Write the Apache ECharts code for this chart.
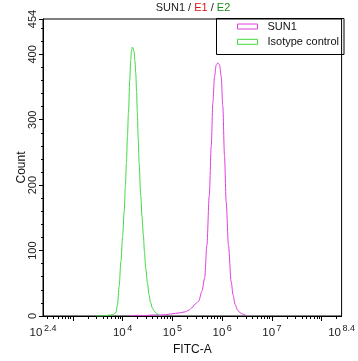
<!DOCTYPE html>
<html><head><meta charset="utf-8">
<script src="https://cdn.jsdelivr.net/npm/echarts@6/dist/echarts.min.js"></script>
<style>html,body{margin:0;padding:0;background:#fff}#c{width:358px;height:361px}</style>
</head><body><div id="c"></div>
<script>
// ---- data ----
const titleParts = ['SUN1', 'E1', 'E2'];
const seriesNames = ['SUN1', 'Isotype control'];
const xAxisName = 'FITC-A';
const yAxisName = 'Count';
const xLabelExponents = [2.4, 4, 5, 6, 7, 8.4];
const xMajorTickExponents = [3, 4, 5, 6, 7, 8];
const yTickValues = [0, 100, 200, 300, 400, 454];
const yMinorTickValues = [20,40,60,80,120,140,160,180,220,240,260,280,320,340,360,380,420,440];

// log10(FITC-A) and counts
const sun1LogX = [4.15, 4.30, 4.43, 4.59, 4.75, 4.863, 4.96, 5.063, 5.16, 5.262, 5.33, 5.394, 5.462, 5.528, 5.594, 5.648, 5.693, 5.741, 5.781, 5.813, 5.847, 5.881, 5.913, 5.947, 5.981, 6.013, 6.047, 6.081, 6.127, 6.18, 6.22, 6.26, 6.31, 6.36, 6.41, 6.46, 6.49];
const sun1Count = [0, 1, 0.5, 1.5, 1.5, 2, 3, 4, 5, 6.5, 9, 12.6, 18.6, 22.7, 38, 58, 108, 184, 260, 326, 366, 384, 387, 384, 366, 321, 245, 174, 108, 53, 32, 17.6, 9, 5, 3, 1.5, 0];
const isoLogX = [3.47, 3.60, 3.70, 3.80, 3.865, 3.897, 3.93, 3.965, 4.0, 4.031, 4.055, 4.077, 4.097, 4.117, 4.144, 4.162, 4.177, 4.196, 4.213, 4.23, 4.247, 4.264, 4.28, 4.296, 4.313, 4.33, 4.364, 4.39, 4.416, 4.44, 4.464, 4.50, 4.53, 4.56, 4.596, 4.63, 4.663, 4.70, 4.73, 4.76];
const isoCount = [0, 0, 1, 2, 5, 17, 45, 83, 122, 159, 198, 235, 274, 311, 361, 390, 406, 411, 409, 404, 390, 371, 343, 311, 272, 235, 184, 152, 124, 97, 73, 50, 33, 21, 12.6, 8, 5, 3, 1.5, 0];

const colors = ['#e03ee0', '#3fd93f'];

// minor log ticks
const xMinorTicks = [];
for (let n = 2; n <= 8; n++) {
  for (let k = 2; k <= 9; k++) {
    const v = Math.log10(k * Math.pow(10, n));
    if (v > 2.4 && v < 8.4) xMinorTicks.push(v);
  }
}
const pairs = (xs, ys) => xs.map((x, i) => [x, ys[i]]);
const FONT = 'Liberation Sans, Arial, sans-serif';

const chart = echarts.init(document.getElementById('c'), null, {renderer: 'canvas'});
chart.setOption({
  animation: false,
  backgroundColor: '#fff',
  textStyle: {fontFamily: FONT},
  title: {
    text: '{k|' + titleParts[0] + ' / }{r|' + titleParts[1] + '}{k| / }{g|' + titleParts[2] + '}',
    left: 193, top: 2, textAlign: 'center', padding: 0,
    textStyle: {
      fontFamily: FONT, fontWeight: 'normal',
      rich: {
        k: {fontSize: 11, color: '#222', fontFamily: FONT, fontWeight: 'normal'},
        r: {fontSize: 11, color: '#dd1111', fontFamily: FONT, fontWeight: 'normal'},
        g: {fontSize: 11, color: '#1a8a1a', fontFamily: FONT, fontWeight: 'normal'}
      }
    }
  },
  legend: {
    orient: 'vertical', left: 237, top: 20, padding: 0,
    icon: 'rect', itemWidth: 20, itemHeight: 5, itemGap: 2.3,
    textStyle: {fontSize: 11, color: '#111', fontFamily: FONT, lineHeight: 13, padding: [0, 0, 0, 5]},
    itemStyle: {color: 'rgba(255,255,255,0)', borderWidth: 1},
    data: [
      {name: seriesNames[0], itemStyle: {color: 'rgba(255,255,255,0)', borderColor: colors[0], borderWidth: 1}},
      {name: seriesNames[1], itemStyle: {color: 'rgba(255,255,255,0)', borderColor: colors[1], borderWidth: 1}}
    ]
  },
  graphic: [{
    type: 'rect', shape: {x: 216.5, y: 18.5, width: 127.5, height: 36},
    style: {fill: null, stroke: '#000', lineWidth: 1}, z: 10
  }],
  grid: {left: 43, right: 14, top: 19, bottom: 43, show: true, borderColor: '#000', borderWidth: 1, backgroundColor: 'transparent'},
  xAxis: [{
    type: 'value', min: 2.4, max: 8.4,
    name: xAxisName, nameLocation: 'middle', nameGap: 28, nameMoveOverlap: false,
    nameTextStyle: {fontSize: 12, color: '#111', fontFamily: FONT},
    axisLine: {show: true, lineStyle: {color: '#000', width: 1}},
    axisTick: {show: true, length: 5, customValues: xMajorTickExponents, lineStyle: {color: '#000'}},
    axisLabel: {
      show: true, margin: 8, customValues: xLabelExponents,
      formatter: v => '{b|10}{s|' + (Math.round(v * 10) / 10) + '}',
      rich: {
        b: {fontSize: 11.5, color: '#222', fontFamily: FONT, lineHeight: 15, verticalAlign: 'bottom'},
        s: {fontSize: 9, color: '#222', fontFamily: FONT, lineHeight: 10, verticalAlign: 'top', padding: [0, 0, 0, 1.5]}
      }
    },
    splitLine: {show: false}
  }, {
    type: 'value', min: 2.4, max: 8.4, position: 'bottom', gridIndex: 0,
    axisLine: {show: false},
    axisTick: {show: true, length: 3, customValues: xMinorTicks, lineStyle: {color: '#000'}},
    axisLabel: {show: false},
    splitLine: {show: false}
  }],
  yAxis: [{
    type: 'value', min: 0, max: 454,
    name: yAxisName, nameLocation: 'middle', nameGap: 15, nameMoveOverlap: false,
    nameTextStyle: {fontSize: 12, color: '#111', fontFamily: FONT},
    axisLine: {show: true, lineStyle: {color: '#000', width: 1}},
    axisTick: {show: true, length: 4, customValues: yTickValues, lineStyle: {color: '#000'}},
    axisLabel: {show: true, rotate: 90, margin: 5, fontSize: 11, color: '#222', fontFamily: FONT, customValues: yTickValues},
    splitLine: {show: false}
  }, {
    type: 'value', min: 0, max: 454, position: 'left', gridIndex: 0,
    axisLine: {show: false},
    axisTick: {show: true, length: 2, customValues: yMinorTickValues, lineStyle: {color: '#000'}},
    axisLabel: {show: false},
    splitLine: {show: false}
  }],
  series: [{
    name: seriesNames[0], type: 'line', xAxisIndex: 0, yAxisIndex: 0,
    data: pairs(sun1LogX, sun1Count), showSymbol: false, symbol: 'none',
    smooth: 0.3, smoothMonotone: 'x',
    color: colors[0], lineStyle: {color: colors[0], width: 1}
  }, {
    name: seriesNames[1], type: 'line', xAxisIndex: 0, yAxisIndex: 0,
    data: pairs(isoLogX, isoCount), showSymbol: false, symbol: 'none',
    smooth: 0.3, smoothMonotone: 'x',
    color: colors[1], lineStyle: {color: colors[1], width: 1}
  }]
});
</script>
</body></html>
